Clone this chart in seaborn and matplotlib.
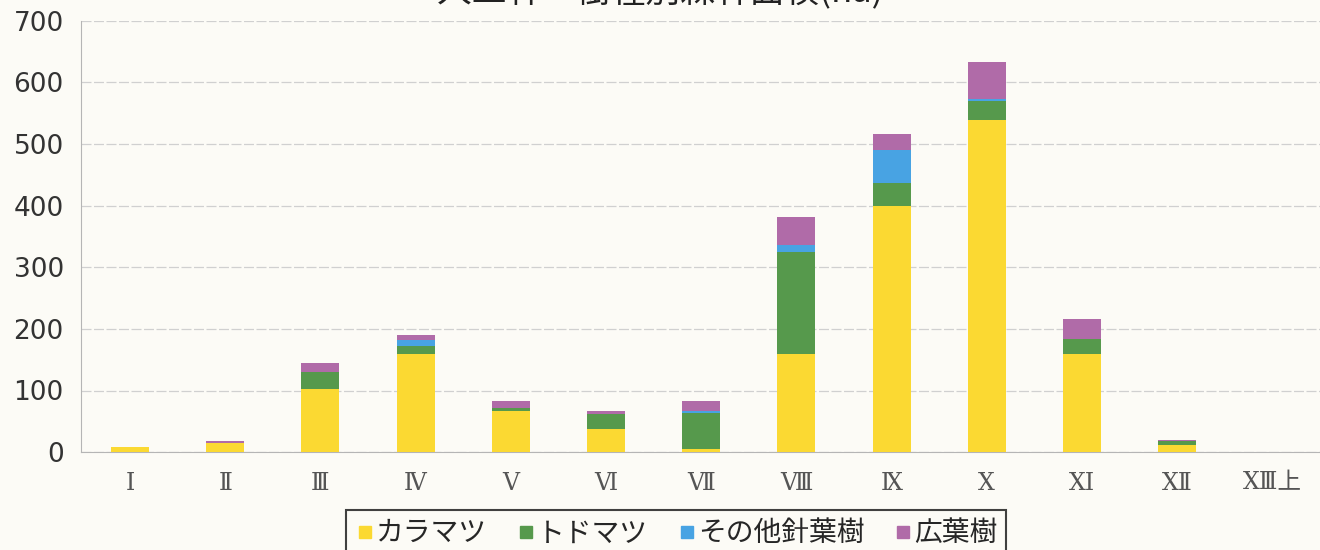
import pandas as pd
import matplotlib.pyplot as plt
import seaborn as sns
from matplotlib.lines import Line2D

# Data (ha)
classes = ['Ⅰ', 'Ⅱ', 'Ⅲ', 'Ⅳ', 'Ⅴ', 'Ⅵ', 'Ⅶ', 'Ⅷ', 'Ⅸ', 'Ⅹ', 'ⅩⅠ', 'ⅩⅡ', 'ⅩⅢ上']
karamatsu = [9, 15, 103, 159, 66, 38, 5, 160, 399, 539, 160, 12, 0]
todomatsu = [0, 0, 27, 13, 5, 24, 58, 165, 38, 31, 24, 6, 0]
other_conifer = [0, 0, 0, 10, 0, 0, 3, 12, 53, 4, 0, 0, 0]
broadleaf = [0, 3, 14, 8, 12, 5, 17, 45, 26, 60, 32, 2, 0]

species = ['カラマツ', 'トドマツ', 'その他針葉樹', '広葉樹']
colors = ['#FBD932', '#56994C', '#48A3E3', '#B06BA8']

df = pd.DataFrame({'class': classes, 'カラマツ': karamatsu, 'トドマツ': todomatsu,
                   'その他針葉樹': other_conifer, '広葉樹': broadleaf})

# cumulative sums so the stacks can be drawn top layer first
cum = df[species].cumsum(axis=1)

sns.set_style('white')
plt.rcParams['font.family'] = ['Noto Sans CJK JP', 'DejaVu Sans']

fig = plt.figure(figsize=(13.2, 5.5), dpi=100, facecolor='#FCFBF6')
ax = fig.add_axes([0.061, 0.178, 0.939, 0.784])
ax.set_facecolor('#FCFBF6')

for sp, col in reversed(list(zip(species, colors))):
    sns.barplot(x=df['class'], y=cum[sp], color=col, width=0.4,
                saturation=1, linewidth=0, edgecolor='none', ax=ax, zorder=3)

ax.set_ylim(0, 700)
ax.set_xlim(-0.52, 12.5)
ax.set_yticks(range(0, 701, 100))
ax.set_xlabel('')
ax.set_ylabel('')
ax.grid(axis='y', color='#D0D0D0', linewidth=0.9, linestyle=(0, (8, 2)), zorder=0)

for s in ['top', 'right']:
    ax.spines[s].set_visible(False)
ax.spines['left'].set_color('#B5B5B5')
ax.spines['bottom'].set_color('#B5B5B5')

ax.tick_params(axis='y', labelsize=19, length=0, pad=12, colors='#333333')
ax.tick_params(axis='x', length=0, pad=14)
for lbl in ax.get_yticklabels():
    lbl.set_family(['DejaVu Sans'])
for lbl in ax.get_xticklabels():
    lbl.set_family(['DejaVu Serif', 'Noto Sans CJK JP'])
    lbl.set_fontsize(17)
    lbl.set_color('#555555')

# title sits mostly above the cropped top edge
fig.text(0.5, 0.983, '人工林　樹種別森林面積(ha)', ha='center', va='bottom',
         fontsize=25, color='#222222')

handles = [Line2D([], [], marker='s', linestyle='', markersize=9,
                  markerfacecolor=c, markeredgecolor=c) for c in colors]
leg = fig.legend(handles, species, loc='upper center', bbox_to_anchor=(0.512, 0.098),
                 ncol=4, fontsize=20, frameon=True, fancybox=False,
                 handletextpad=0.0, columnspacing=1.0, borderpad=0.3,
                 handlelength=0.8)
leg.get_frame().set_edgecolor('#111111')
leg.get_frame().set_linewidth(1.5)
leg.get_frame().set_facecolor('#FCFBF6')

fig.savefig('out.png', dpi=100, facecolor=fig.get_facecolor())
